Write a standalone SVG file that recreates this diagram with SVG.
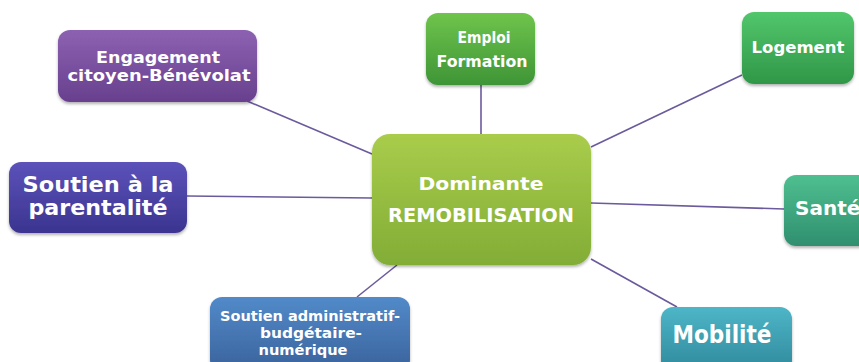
<svg xmlns="http://www.w3.org/2000/svg" width="859" height="362" viewBox="0 0 859 362">
<defs>
<filter id="sh" x="-10%" y="-10%" width="120%" height="130%">
<feDropShadow dx="0" dy="2" stdDeviation="1.6" flood-color="#000" flood-opacity="0.3"/>
</filter>
<linearGradient id="gPurple" x1="0" y1="0" x2="0" y2="1"><stop offset="0" stop-color="#8d61b2"/><stop offset="1" stop-color="#67408e"/></linearGradient>
<linearGradient id="gEmploi" x1="0" y1="0" x2="0" y2="1"><stop offset="0" stop-color="#6fc44c"/><stop offset="1" stop-color="#3e9536"/></linearGradient>
<linearGradient id="gLog" x1="0" y1="0" x2="0" y2="1"><stop offset="0" stop-color="#52c66c"/><stop offset="1" stop-color="#2f9748"/></linearGradient>
<linearGradient id="gCenter" x1="0" y1="0" x2="0" y2="1"><stop offset="0" stop-color="#a9cc4b"/><stop offset="1" stop-color="#82ad36"/></linearGradient>
<linearGradient id="gParent" x1="0" y1="0" x2="0" y2="1"><stop offset="0" stop-color="#5c52ba"/><stop offset="1" stop-color="#3b348f"/></linearGradient>
<linearGradient id="gAdmin" x1="0" y1="0" x2="0" y2="1"><stop offset="0" stop-color="#528ac9"/><stop offset="1" stop-color="#3a629b"/></linearGradient>
<linearGradient id="gSante" x1="0" y1="0" x2="0" y2="1"><stop offset="0" stop-color="#4fbf90"/><stop offset="1" stop-color="#2f8f6f"/></linearGradient>
<linearGradient id="gMob" x1="0" y1="0" x2="0" y2="1"><stop offset="0" stop-color="#4db6c7"/><stop offset="1" stop-color="#2f889b"/></linearGradient>
</defs>
<style>
.box{filter:url(#sh);}
.t{font-family:"DejaVu Sans","Liberation Sans",sans-serif;font-weight:bold;fill:#ffffff;text-anchor:middle;}
.conn line{stroke:#6b5a9c;stroke-width:1.6;}
</style>
<rect width="859" height="362" fill="#ffffff"/>
<g id="connectors" class="conn">
<line x1="247" y1="101" x2="372" y2="154"/>
<line x1="481" y1="84" x2="481" y2="134"/>
<line x1="742" y1="75" x2="591" y2="147"/>
<line x1="187" y1="196" x2="372" y2="198"/>
<line x1="591" y1="203" x2="784" y2="209"/>
<line x1="591" y1="259" x2="677" y2="307"/>
<line x1="397" y1="265" x2="357" y2="297"/>
</g>
<g id="engagement">
<rect class="box" x="58" y="30" width="199" height="72" rx="12" fill="url(#gPurple)"/>
<text class="t" x="158" y="63" font-size="15" textLength="124" lengthAdjust="spacingAndGlyphs">Engagement</text>
<text class="t" x="159" y="81" font-size="15" textLength="183" lengthAdjust="spacingAndGlyphs">citoyen-Bénévolat</text>
</g>
<g id="emploi">
<rect class="box" x="426" y="13" width="109" height="72" rx="12" fill="url(#gEmploi)"/>
<text class="t" x="484" y="43" font-size="15" textLength="53" lengthAdjust="spacingAndGlyphs">Emploi</text>
<text class="t" x="482" y="67" font-size="15" textLength="91" lengthAdjust="spacingAndGlyphs">Formation</text>
</g>
<g id="logement">
<rect class="box" x="742" y="12" width="112" height="72" rx="12" fill="url(#gLog)"/>
<text class="t" x="798" y="53" font-size="15" textLength="93" lengthAdjust="spacingAndGlyphs">Logement</text>
</g>
<g id="center">
<rect class="box" x="372" y="134" width="219" height="131" rx="18" fill="url(#gCenter)"/>
<text class="t" x="481" y="190" font-size="18" textLength="125" lengthAdjust="spacingAndGlyphs">Dominante</text>
<text class="t" x="481" y="222" font-size="19" textLength="186" lengthAdjust="spacingAndGlyphs">REMOBILISATION</text>
</g>
<g id="parentalite">
<rect class="box" x="9" y="162" width="178" height="71" rx="12" fill="url(#gParent)"/>
<text class="t" x="98" y="192" font-size="22" textLength="151" lengthAdjust="spacingAndGlyphs">Soutien à la</text>
<text class="t" x="98" y="215" font-size="22" textLength="139" lengthAdjust="spacingAndGlyphs">parentalité</text>
</g>
<g id="sante">
<rect class="box" x="784" y="175" width="90" height="71" rx="12" fill="url(#gSante)"/>
<text class="t" x="795" y="215" font-size="20" style="text-anchor:start">Santé</text>
</g>
<g id="mobilite">
<rect class="box" x="661" y="307" width="131" height="66" rx="12" fill="url(#gMob)"/>
<text class="t" x="722" y="343" font-size="24" textLength="99" lengthAdjust="spacingAndGlyphs">Mobilité</text>
</g>
<g id="admin">
<rect class="box" x="210" y="297" width="200" height="75" rx="12" fill="url(#gAdmin)"/>
<text class="t" x="310" y="321" font-size="13.5" textLength="180" lengthAdjust="spacingAndGlyphs">Soutien administratif-</text>
<text class="t" x="311" y="338" font-size="13.5" textLength="102" lengthAdjust="spacingAndGlyphs">budgétaire-</text>
<text class="t" x="303" y="355" font-size="13.5" textLength="89" lengthAdjust="spacingAndGlyphs">numérique</text>
</g>
</svg>
